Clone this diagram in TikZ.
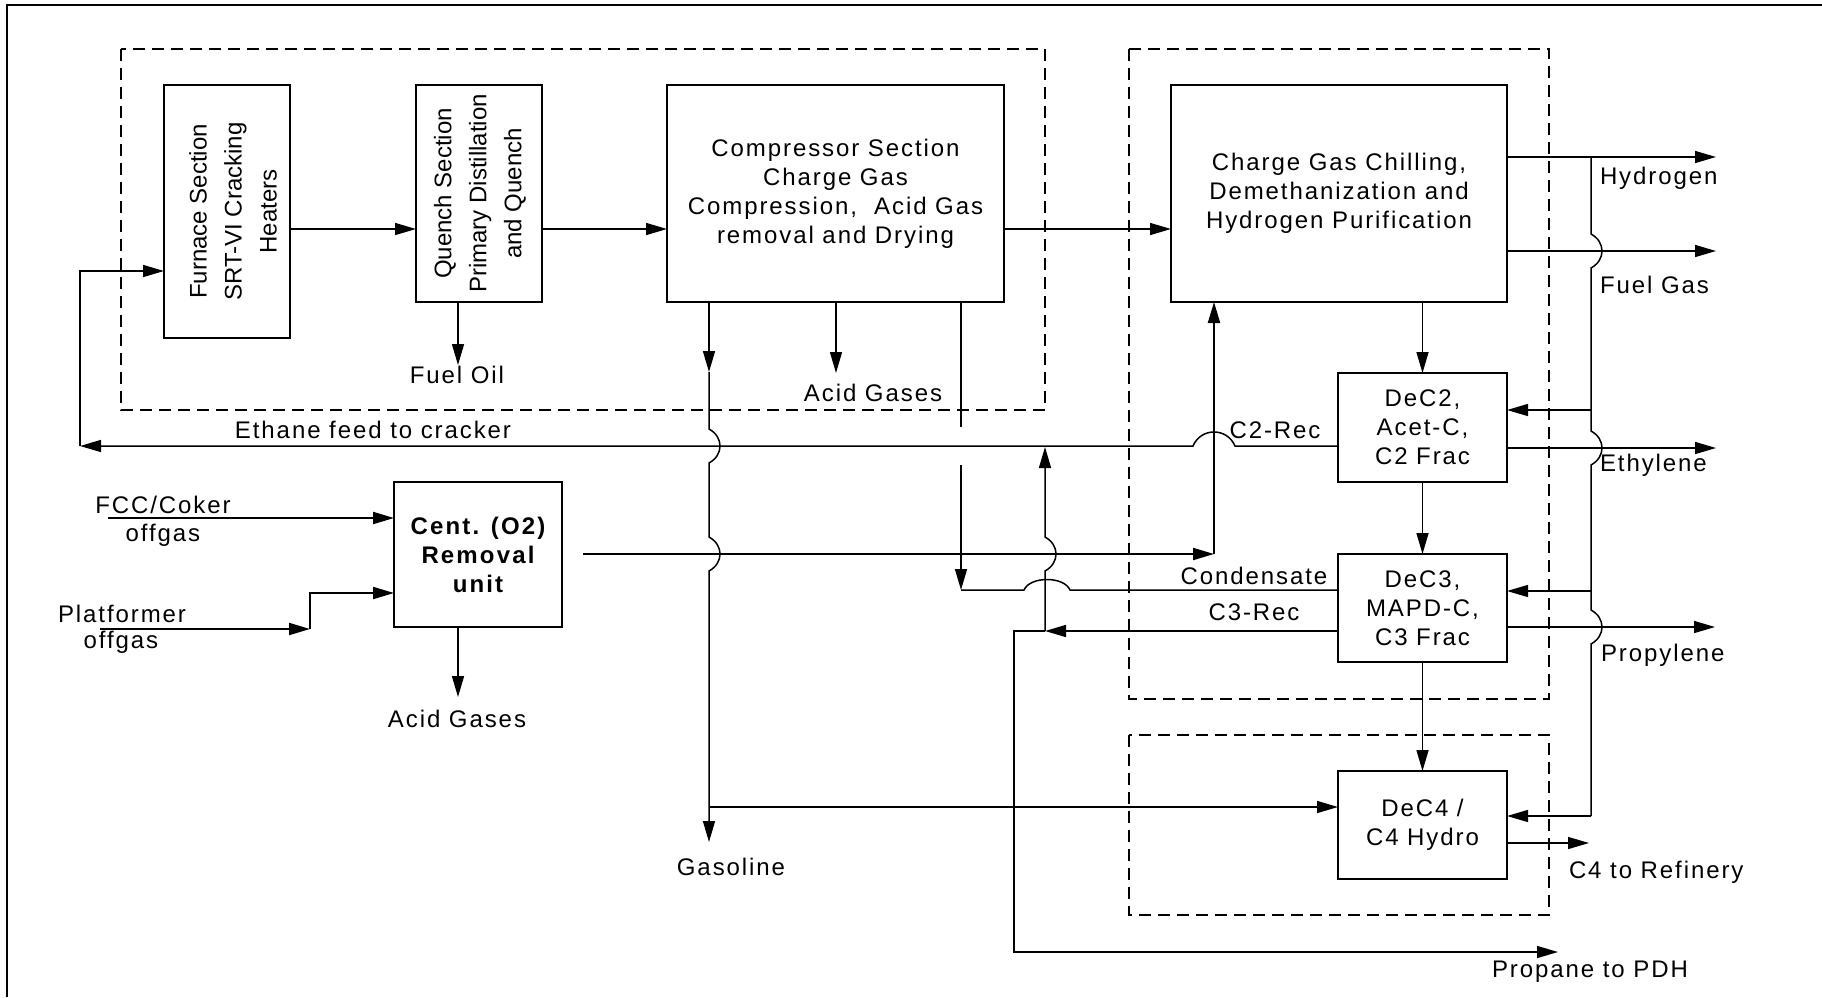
\documentclass[tikz,border=0pt]{standalone}
\usepackage{fontspec}
\setmainfont{Liberation Sans}[LetterSpace=8]
\newfontfamily\rotf{Liberation Sans}
\newfontfamily\wide{Liberation Sans}[LetterSpace=9]
\usetikzlibrary{arrows.meta}
\begin{document}
\begin{tikzpicture}[x=0.5pt,y=-0.5pt,
  every node/.style={inner sep=0pt, outer sep=0pt},
  ln/.style={line width=0.75pt},
  arr/.style={line width=0.75pt,-{Triangle[length=10.5pt,width=6pt]}},
  tarr/.style={line width=1.05pt,-{Triangle[length=10.5pt,width=6pt]}},
  txt/.style={font=\fontsize{12pt}{14.5pt}\selectfont, align=center},
  ubox/.style={draw, line width=0.75pt, txt},
  kbox/.style={draw, line width=1.3pt, txt},
  rtxt/.style={rotate=90, align=center, font=\rotf\fontsize{12pt}{17.5pt}\selectfont},
  zone/.style={draw, line width=1.15pt, dash pattern=on 6pt off 3.5pt},
  lab/.style={txt}]
\useasboundingbox (0,0) rectangle (1822,997);
% frame
\draw[line width=1.25pt] (7,997) -- (7,5) -- (1822,5);
% zones
\draw[zone] (121,49) rectangle (1045,410);
\draw[zone] (1129,49) rectangle (1549,699);
\draw[zone] (1129,735) rectangle (1549,915);
% boxes
\node[ubox, minimum width=63pt, minimum height=126.5pt] (furn) at (227,211.5) {};
\node[rtxt] (furnt) at (233,211.5) {Furnace Section\\SRT-VI Cracking\\Heaters};
\node[ubox, minimum width=63pt, minimum height=108.5pt] (quen) at (479,193.5) {};
\node[rtxt] (quent) at (480,193.5) {Quench Section\\Primary Distillation\\and Quench};
\node[ubox, minimum width=168.5pt, minimum height=108.5pt] (comp) at (835.5,193.5) {Compressor Section\\Charge Gas\\Compression,\ \ Acid Gas\\removal and Drying};
\node[ubox, minimum width=168pt, minimum height=108.5pt] (chil) at (1339,193.5) {Charge Gas Chilling,\\Demethanization and\\Hydrogen Purification};
\node[kbox, minimum width=84.5pt, minimum height=54.5pt] (dec2) at (1422.5,427.5) {DeC2,\\Acet-C,\\C2 Frac};
\node[kbox, minimum width=84.5pt, minimum height=54pt] (dec3) at (1422.5,608) {DeC3,\\MAPD-C,\\C3 Frac};
\node[kbox, minimum width=84.5pt, minimum height=54pt] (dec4) at (1422.5,825) {DeC4 /\\C4 Hydro};
\node[kbox, minimum width=84pt, minimum height=72.5pt, font=\wide\bfseries\fontsize{12pt}{14.5pt}\selectfont] (otwo) at (478,554.5) {Cent. (O2)\\Removal\\unit};
% helper coordinates
\coordinate (ymain) at (0,229);
\coordinate (yeth) at (0,446);
\coordinate (yo2) at (0,554);
\coordinate (ycond) at (0,590);
\coordinate (yc3) at (0,631);
% main train
\draw[arr] (furn.east |- ymain) -- (quen.west |- ymain);
\draw[arr] (quen.east |- ymain) -- (comp.west |- ymain);
\draw[arr] (comp.east |- ymain) -- (chil.west |- ymain);
% fuel oil
\coordinate (fo) at (458,365);
\draw[arr] (quen.south -| fo) -- (fo);
\node[lab] (lfo) at (457,375) {Fuel Oil};
% compressor bottoms
\coordinate (gmid) at (709,372);
\coordinate (gend) at (709,842);
\draw[arr] (comp.south -| gmid) -- (gmid);
\draw[arr] (gmid) -- (709,429) .. controls (723.7,437) and (723.7,455) .. (709,463)
   -- (709,537) .. controls (723.7,545) and (723.7,563) .. (709,571) -- (gend);
\coordinate (gbr) at (709,807);
\draw[arr] (gbr) -- (dec4.west |- gbr);
\node[lab] (lgas) at (731,867) {Gasoline};
\coordinate (ag) at (836,373);
\draw[arr] (comp.south -| ag) -- (ag);
\node[lab] (lag) at (873,393) {Acid Gases};
\coordinate (cn1) at (961,427);
\coordinate (cn2) at (961,465);
\coordinate (cn3) at (961,590);
\draw[ln] (comp.south -| cn1) -- (cn1);
\draw[arr] (cn2) -- (cn3);
\draw[ln] (cn3) -- (1024,590) .. controls (1030,576) and (1064,576) .. (1070,590) -- (dec3.west |- ycond);
\node[lab] (lcond) at (1254,576) {Condensate};
% ethane recycle
\coordinate (ecorner) at (80,446);
\draw[arr] (dec2.west |- yeth) -- (1235,446) .. controls (1227,427.3) and (1201,427.3) .. (1193,446) -- (ecorner);
\draw[arr] (ecorner) -- (80,271) -- (furn.west |- 0,271);
\node[lab] (leth) at (373,430) {Ethane feed to cracker};
\node[lab] (lc2) at (1275,430) {C2-Rec};
% C3 recycle
\coordinate (c3j) at (1045,631);
\draw[arr] (dec3.west |- yc3) -- (c3j);
\draw[arr] (c3j) -- (1045,571) .. controls (1059.7,563) and (1059.7,545) .. (1045,537) -- (1045,447);
\coordinate (pdh) at (1558,952);
\draw[arr] (c3j) -- (1014,631) -- (1014,952) -- (pdh);
\node[lab] (lc3) at (1254,612) {C3-Rec};
\node[lab] (lpdh) at (1590,972) {Propane to PDH};
% O2 removal unit
\coordinate (o2s) at (583,554);
\coordinate (o2c) at (1214,554);
\draw[tarr] (o2s) -- (o2c);
\draw[tarr] (o2c) -- (chil.south -| o2c);
\coordinate (fcc) at (108,518);
\draw[tarr] (fcc) -- (otwo.west |- fcc);
\node[lab] (lfcc1) at (163,505) {FCC/Coker};
\node[lab] (lfcc2) at (163,535) {offgas};
\coordinate (plat) at (100,629);
\coordinate (platk) at (310,629);
\draw[tarr] (plat) -- (platk);
\draw[tarr] (platk) -- (310,593) -- (otwo.west |- 0,593);
\node[lab] (lpl1) at (122,614) {Platformer};
\node[lab] (lpl2) at (121,642) {offgas};
\coordinate (oag) at (458,697);
\draw[arr] (otwo.south -| oag) -- (oag);
\node[lab] (loag) at (457,719) {Acid Gases};
% recovery train
\draw[arr] (chil.south -| dec2.north) -- (dec2.north);
\draw[arr] (dec2.south) -- (dec3.north);
\draw[arr] (dec3.south) -- (dec4.north);
% products
\coordinate (h2) at (1716,157);
\coordinate (fg) at (1716,251);
\coordinate (eth) at (1716,448);
\coordinate (pro) at (1715,627);
\coordinate (c4r) at (1589,843);
\draw[arr] (chil.east |- h2) -- (h2);
\draw[arr] (chil.east |- fg) -- (fg);
\draw[arr] (dec2.east |- eth) -- (eth);
\draw[arr] (dec3.east |- pro) -- (pro);
\draw[arr] (dec4.east |- c4r) -- (c4r);
\node[lab, anchor=west] (lh2) at (1600,178) {Hydrogen};
\node[lab, anchor=west] (lfg) at (1600,285) {Fuel Gas};
\node[lab, anchor=west] (leth2) at (1600,465) {Ethylene};
\node[lab, anchor=west] (lpro) at (1601,655) {Propylene};
\node[lab, anchor=west] (lc4) at (1569,872) {C4 to Refinery};
% hydrogen distribution bus
\coordinate (bus) at (1591,157);
\draw[ln] (bus) -- (1591,234) .. controls (1605.7,242) and (1605.7,260) .. (1591,268)
  -- (1591,431) .. controls (1605.7,439) and (1605.7,457) .. (1591,465)
  -- (1591,610) .. controls (1605.7,618) and (1605.7,636) .. (1591,644)
  -- (1591,816);
\draw[arr] (1591,410) -- (dec2.east |- 0,410);
\draw[arr] (1591,591) -- (dec3.east |- 0,591);
\draw[arr] (1591,816) -- (dec4.east |- 0,816);
\end{tikzpicture}
\end{document}
